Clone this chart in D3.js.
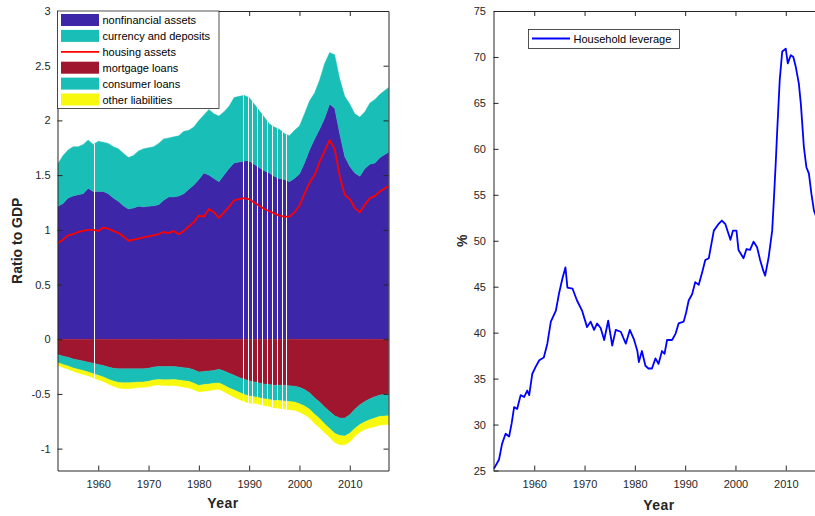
<!DOCTYPE html>
<html>
<head>
<meta charset="utf-8">
<script src="https://cdn.jsdelivr.net/npm/d3@7"></script>
<style>
  body { margin: 0; background: #fff; }
  svg { display: block; font-family: "Liberation Sans", Arial, Helvetica, sans-serif; }
</style>
</head>
<body>
<svg id="chart" width="815" height="516"></svg>
<script>
// ---- Household balance sheet, ratio to GDP (annual readings; last one at the series end) ----
const years = [
  1952, 1953, 1954, 1955, 1956, 1957, 1958, 1959, 1960, 1961,
  1962, 1963, 1964, 1965, 1966, 1967, 1968, 1969, 1970, 1971,
  1972, 1973, 1974, 1975, 1976, 1977, 1978, 1979, 1980, 1981,
  1982, 1983, 1984, 1985, 1986, 1987, 1988, 1989, 1990, 1991,
  1992, 1993, 1994, 1995, 1996, 1997, 1998, 1999, 2000, 2001,
  2002, 2003, 2004, 2005, 2006, 2007, 2008, 2009, 2010, 2011,
  2012, 2013, 2014, 2015, 2016, 2017.7
];
const nonfinancialAssets = [
  1.215, 1.24, 1.29, 1.31, 1.32, 1.33, 1.38, 1.35, 1.35, 1.35,
  1.33, 1.29, 1.26, 1.22, 1.19, 1.20, 1.215, 1.21, 1.215, 1.22,
  1.23, 1.27, 1.30, 1.30, 1.31, 1.33, 1.37, 1.41, 1.46, 1.52,
  1.50, 1.47, 1.44, 1.50, 1.56, 1.61, 1.62, 1.63, 1.63, 1.60,
  1.57, 1.54, 1.52, 1.49, 1.47, 1.46, 1.44, 1.47, 1.51, 1.61,
  1.73, 1.83, 1.92, 2.02, 2.15, 2.11, 1.88, 1.67, 1.58, 1.52,
  1.49, 1.56, 1.60, 1.61, 1.66, 1.71
];
const currencyDeposits = [
  0.39, 0.44, 0.44, 0.45, 0.44, 0.45, 0.44, 0.43, 0.46, 0.45,
  0.46, 0.47, 0.48, 0.48, 0.47, 0.48, 0.505, 0.53, 0.535, 0.54,
  0.56, 0.56, 0.54, 0.55, 0.55, 0.57, 0.54, 0.53, 0.54, 0.53,
  0.60, 0.59, 0.60, 0.58, 0.57, 0.60, 0.60, 0.60, 0.58, 0.55,
  0.52, 0.49, 0.45, 0.45, 0.45, 0.42, 0.42, 0.44, 0.44, 0.45,
  0.45, 0.42, 0.45, 0.50, 0.47, 0.49, 0.50, 0.55, 0.57, 0.54,
  0.54, 0.52, 0.56, 0.58, 0.58, 0.59
];
const housingAssets = [
  0.88, 0.91, 0.95, 0.96, 0.98, 0.99, 1.00, 1.00, 0.99, 1.02,
  1.01, 0.99, 0.97, 0.94, 0.90, 0.91, 0.92, 0.93, 0.94, 0.95,
  0.96, 0.98, 0.97, 0.99, 0.96, 0.99, 1.03, 1.07, 1.13, 1.12,
  1.19, 1.16, 1.11, 1.16, 1.21, 1.27, 1.28, 1.29, 1.28, 1.25,
  1.22, 1.19, 1.17, 1.15, 1.13, 1.12, 1.12, 1.16, 1.22, 1.33,
  1.43, 1.50, 1.62, 1.72, 1.82, 1.74, 1.49, 1.32, 1.28, 1.20,
  1.16, 1.23, 1.29, 1.31, 1.35, 1.40
];
const mortgageLoans = [
  0.14, 0.155, 0.165, 0.18, 0.19, 0.20, 0.21, 0.22, 0.23, 0.24,
  0.255, 0.265, 0.27, 0.27, 0.27, 0.27, 0.27, 0.27, 0.265, 0.255,
  0.25, 0.25, 0.25, 0.25, 0.255, 0.26, 0.265, 0.28, 0.30, 0.295,
  0.29, 0.285, 0.275, 0.29, 0.31, 0.33, 0.35, 0.365, 0.38, 0.39,
  0.40, 0.41, 0.415, 0.42, 0.42, 0.42, 0.425, 0.43, 0.44, 0.46,
  0.49, 0.535, 0.575, 0.62, 0.66, 0.70, 0.72, 0.72, 0.69, 0.64,
  0.60, 0.57, 0.545, 0.525, 0.51, 0.50
];
const consumerLoans = [
  0.075, 0.077, 0.08, 0.082, 0.085, 0.087, 0.09, 0.095, 0.10, 0.105,
  0.11, 0.118, 0.125, 0.128, 0.127, 0.125, 0.122, 0.12, 0.12, 0.118,
  0.118, 0.12, 0.12, 0.118, 0.118, 0.12, 0.12, 0.122, 0.122, 0.12,
  0.12, 0.118, 0.125, 0.13, 0.135, 0.135, 0.135, 0.14, 0.14, 0.135,
  0.135, 0.135, 0.135, 0.14, 0.14, 0.145, 0.145, 0.145, 0.15, 0.15,
  0.15, 0.15, 0.15, 0.155, 0.155, 0.16, 0.16, 0.165, 0.17, 0.175,
  0.18, 0.185, 0.19, 0.195, 0.195, 0.20
];
const otherLiabilities = [
  0.025, 0.027, 0.03, 0.03, 0.033, 0.035, 0.035, 0.038, 0.04, 0.042,
  0.045, 0.048, 0.052, 0.055, 0.055, 0.053, 0.05, 0.05, 0.05, 0.05,
  0.05, 0.052, 0.055, 0.055, 0.057, 0.058, 0.06, 0.06, 0.06, 0.06,
  0.06, 0.06, 0.058, 0.06, 0.06, 0.065, 0.065, 0.065, 0.065, 0.06,
  0.06, 0.062, 0.065, 0.068, 0.07, 0.073, 0.075, 0.075, 0.075, 0.08,
  0.08, 0.085, 0.085, 0.08, 0.08, 0.085, 0.085, 0.08, 0.08, 0.075,
  0.07, 0.07, 0.075, 0.08, 0.08, 0.08
];
// quarters where neighbouring bars leave a hairline gap
const barGapYears = [1959.1, 1988.8, 1989.7, 1990.6, 1991.6, 1992.6, 1993.6, 1994.6, 1995.6, 1996.6, 1997.4];

// ---- Household leverage, % ----
const leverageYears = [
  1952.0, 1953.0, 1953.6, 1954.3, 1955.0, 1955.5, 1956.0, 1956.6, 1957.3, 1958.0,
  1958.6, 1959.0, 1959.6, 1960.3, 1961.0, 1961.9, 1962.6, 1963.3, 1964.3, 1964.9,
  1965.6, 1966.2, 1966.6, 1967.6, 1968.5, 1969.5, 1970.5, 1971.2, 1971.9, 1972.5,
  1973.2, 1973.9, 1974.7, 1975.5, 1976.2, 1977.2, 1978.2, 1979.0, 1979.8, 1980.5,
  1980.8, 1981.4, 1982.1, 1982.7, 1983.4, 1984.1, 1984.7, 1985.4, 1985.9, 1986.4,
  1987.4, 1988.1, 1988.7, 1989.7, 1990.2, 1990.7, 1991.4, 1992.0, 1992.7, 1993.4,
  1994.0, 1994.7, 1995.0, 1995.7, 1996.6, 1997.3, 1998.0, 1999.0, 1999.5, 2000.2,
  2000.6, 2001.6, 2002.2, 2002.9, 2003.6, 2004.3, 2004.9, 2005.5, 2005.9, 2006.6,
  2007.3, 2007.6, 2008.0, 2008.3, 2008.8, 2009.3, 2010.0, 2010.4, 2011.0, 2011.5,
  2012.0, 2012.6, 2013.0, 2013.6, 2014.1, 2014.6, 2015.1, 2015.6, 2016.2
];
const householdLeverage = [
  25.2, 26.2, 27.9, 29.0, 28.7, 30.1, 31.9, 31.7, 33.2, 33.0,
  33.7, 33.2, 35.5, 36.3, 37.0, 37.3, 38.8, 41.2, 42.4, 44.2,
  45.9, 47.1, 44.9, 44.8, 43.5, 42.4, 40.6, 41.2, 40.3, 41.0,
  40.5, 39.2, 41.3, 38.6, 40.3, 40.1, 38.8, 40.3, 39.3, 38.0,
  36.8, 38.0, 36.4, 36.1, 36.1, 37.2, 36.6, 38.0, 37.7, 39.2,
  39.2, 39.9, 41.0, 41.2, 42.2, 43.5, 44.2, 45.5, 45.2, 46.6,
  47.9, 48.1, 49.0, 51.1, 51.8, 52.2, 51.8, 50.1, 51.1, 51.1,
  49.0, 48.1, 49.1, 49.0, 49.9, 49.3, 47.9, 46.8, 46.2, 48.2,
  51.1, 54.1, 58.4, 62.0, 67.5, 70.6, 70.9, 69.3, 70.2, 70.0,
  68.9, 67.1, 64.9, 60.2, 58.0, 57.3, 55.1, 53.3, 52.4
];

const yearTicks = [1960, 1970, 1980, 1990, 2000, 2010];
const ratioTicks = [-1, -0.5, 0, 0.5, 1, 1.5, 2, 2.5, 3];
const leverageTicks = [25, 30, 35, 40, 45, 50, 55, 60, 65, 70, 75];

const legendLabels = ["nonfinancial assets", "currency and deposits", "housing assets",
                      "mortgage loans", "consumer loans", "other liabilities"];

// ---- styling ----
const axisColor = "#262626";
const tickLen = 5;
const colNonfin = "#3E26A8";
const colTeal = "#19BFB7";
const colMortgage = "#A1162F";
const colYellow = "#F8F80F";
const colHousing = "#FF0000";
const colLeverage = "#0000FF";

const svg = d3.select("#chart");

// ================= left panel: balance sheet =================
const xL = d3.scaleLinear().domain([1951.9, 2017.7]).range([57.5, 388.5]);
const yL = d3.scaleLinear().domain([-1.2, 3]).range([470.5, 11]);

const table = years.map((yr, i) => ({
  year: yr,
  nfa: nonfinancialAssets[i],
  cd: currencyDeposits[i],
  ml: -mortgageLoans[i],
  cl: -consumerLoans[i],
  ol: -otherLiabilities[i]
}));
const keys = ["nfa", "cd", "ml", "cl", "ol"];
const fills = { nfa: colNonfin, cd: colTeal, ml: colMortgage, cl: colTeal, ol: colYellow };
const stacked = d3.stack().keys(keys).offset(d3.stackOffsetDiverging)(table);

const area = d3.area()
  .x(d => xL(d.data.year))
  .y0(d => yL(d[0]))
  .y1(d => yL(d[1]));

const gLeft = svg.append("g");
gLeft.selectAll("path.layer")
  .data(stacked)
  .join("path")
  .attr("class", "layer")
  .attr("fill", s => fills[s.key])
  .attr("stroke", s => fills[s.key])
  .attr("stroke-width", 0.4)
  .attr("d", area);

// hairline gaps, confined to the stacked bars
const envelope = d3.area()
  .x((d, i) => xL(years[i]))
  .y0((d, i) => yL(stacked[4][i][0]))
  .y1((d, i) => yL(stacked[1][i][1]));
svg.append("defs").append("clipPath").attr("id", "barClip")
  .append("path").attr("d", envelope(table));
gLeft.append("g").attr("clip-path", "url(#barClip)")
  .selectAll("line")
  .data(barGapYears)
  .join("line")
  .attr("x1", d => Math.round(xL(d)) + 0.5)
  .attr("x2", d => Math.round(xL(d)) + 0.5)
  .attr("y1", yL(3)).attr("y2", yL(-1.2))
  .attr("stroke", "#fff").attr("stroke-width", 1)
  .attr("shape-rendering", "crispEdges");

// housing assets line
gLeft.append("path")
  .datum(housingAssets)
  .attr("fill", "none")
  .attr("stroke", colHousing)
  .attr("stroke-width", 1.8)
  .attr("stroke-linejoin", "round")
  .attr("d", d3.line().x((d, i) => xL(years[i])).y(d => yL(d)));

function styleAxis(g, showText) {
  g.attr("font-family", null).attr("font-size", null);
  g.select(".domain").attr("stroke", axisColor).attr("stroke-width", 1);
  g.selectAll(".tick line").attr("stroke", axisColor).attr("stroke-width", 1);
  g.selectAll(".tick text")
    .attr("fill", axisColor)
    .style("font-size", "11px")
    .style("font-family", '"Liberation Sans", Arial, Helvetica, sans-serif');
  if (!showText) g.selectAll(".tick text").remove();
}

function boxAxes(g, x, y, yTicks, xPad, yPad) {
  const [x0, x1] = x.range();
  const [yb, yt] = y.range();
  g.append("g").attr("transform", `translate(0,${yb})`)
    .call(d3.axisBottom(x).tickValues(yearTicks).tickFormat(d3.format("d"))
      .tickSizeInner(-tickLen).tickSizeOuter(0).tickPadding(xPad))
    .call(a => styleAxis(a, true));
  g.append("g").attr("transform", `translate(0,${yt})`)
    .call(d3.axisTop(x).tickValues(yearTicks).tickSizeInner(-tickLen).tickSizeOuter(0))
    .call(a => styleAxis(a, false));
  g.append("g").attr("transform", `translate(${x0},0)`)
    .call(d3.axisLeft(y).tickValues(yTicks).tickFormat(d => String(d))
      .tickSizeInner(-tickLen).tickSizeOuter(0).tickPadding(yPad))
    .call(a => styleAxis(a, true));
  g.append("g").attr("transform", `translate(${x1},0)`)
    .call(d3.axisRight(y).tickValues(yTicks).tickSizeInner(-tickLen).tickSizeOuter(0))
    .call(a => styleAxis(a, false));
}

boxAxes(gLeft, xL, yL, ratioTicks, 10, 7);

gLeft.append("text")
  .attr("x", (xL.range()[0] + xL.range()[1]) / 2)
  .attr("y", 508)
  .attr("text-anchor", "middle")
  .attr("font-weight", "bold")
  .attr("font-size", 14)
  .attr("fill", axisColor)
  .style("letter-spacing", "0.5px")
  .text("Year");
gLeft.append("text")
  .attr("transform", `translate(22,${(yL.range()[0] + yL.range()[1]) / 2}) rotate(-90)`)
  .attr("text-anchor", "middle")
  .attr("font-weight", "bold")
  .attr("font-size", 14)
  .attr("fill", axisColor)
  .text("Ratio to GDP");

// legend
const legendKinds = [
  { fill: colNonfin }, { fill: colTeal }, { line: colHousing },
  { fill: colMortgage }, { fill: colTeal }, { fill: colYellow }
];
const lg = gLeft.append("g");
lg.append("rect")
  .attr("x", 57.5).attr("y", 11)
  .attr("width", 161.5).attr("height", 97.5)
  .attr("fill", "#fff").attr("stroke", axisColor).attr("stroke-width", 0.8);
legendLabels.forEach((label, i) => {
  const cy = 20 + i * 15.9;
  const k = legendKinds[i];
  if (k.fill) {
    lg.append("rect").attr("x", 61).attr("y", cy - 6).attr("width", 38).attr("height", 12)
      .attr("fill", k.fill);
  } else {
    lg.append("line").attr("x1", 61).attr("x2", 99).attr("y1", cy).attr("y2", cy)
      .attr("stroke", k.line).attr("stroke-width", 1.8);
  }
  lg.append("text").attr("x", 102.5).attr("y", cy + 4)
    .attr("font-size", 11).attr("fill", "#000").text(label);
});

// ================= right panel: household leverage =================
const xR = d3.scaleLinear().domain([1951.9, 2017.7]).range([493.5, 824.5]);
const yR = d3.scaleLinear().domain([25, 75]).range([470.5, 11]);
const gRight = svg.append("g");

gRight.append("path")
  .datum(householdLeverage)
  .attr("fill", "none")
  .attr("stroke", colLeverage)
  .attr("stroke-width", 1.8)
  .attr("stroke-linejoin", "round")
  .attr("d", d3.line().x((d, i) => xR(leverageYears[i])).y(d => yR(d)));

boxAxes(gRight, xR, yR, leverageTicks, 10, 7.5);

gRight.append("text")
  .attr("x", (xR.range()[0] + xR.range()[1]) / 2)
  .attr("y", 510)
  .attr("text-anchor", "middle")
  .attr("font-weight", "bold")
  .attr("font-size", 14)
  .attr("fill", axisColor)
  .style("letter-spacing", "0.5px")
  .text("Year");
gRight.append("text")
  .attr("transform", `translate(467,${(yR.range()[0] + yR.range()[1]) / 2}) rotate(-90)`)
  .attr("text-anchor", "middle")
  .attr("font-weight", "bold")
  .attr("font-size", 14)
  .attr("fill", axisColor)
  .text("%");

const lgR = gRight.append("g");
lgR.append("rect")
  .attr("x", 528.5).attr("y", 29.5).attr("width", 151).attr("height", 19)
  .attr("fill", "#fff").attr("stroke", axisColor).attr("stroke-width", 0.8);
lgR.append("line").attr("x1", 532).attr("x2", 570).attr("y1", 38.5).attr("y2", 38.5)
  .attr("stroke", colLeverage).attr("stroke-width", 1.8);
lgR.append("text").attr("x", 573.5).attr("y", 42.5)
  .attr("font-size", 11).attr("fill", "#000").text("Household leverage");
</script>
</body>
</html>
